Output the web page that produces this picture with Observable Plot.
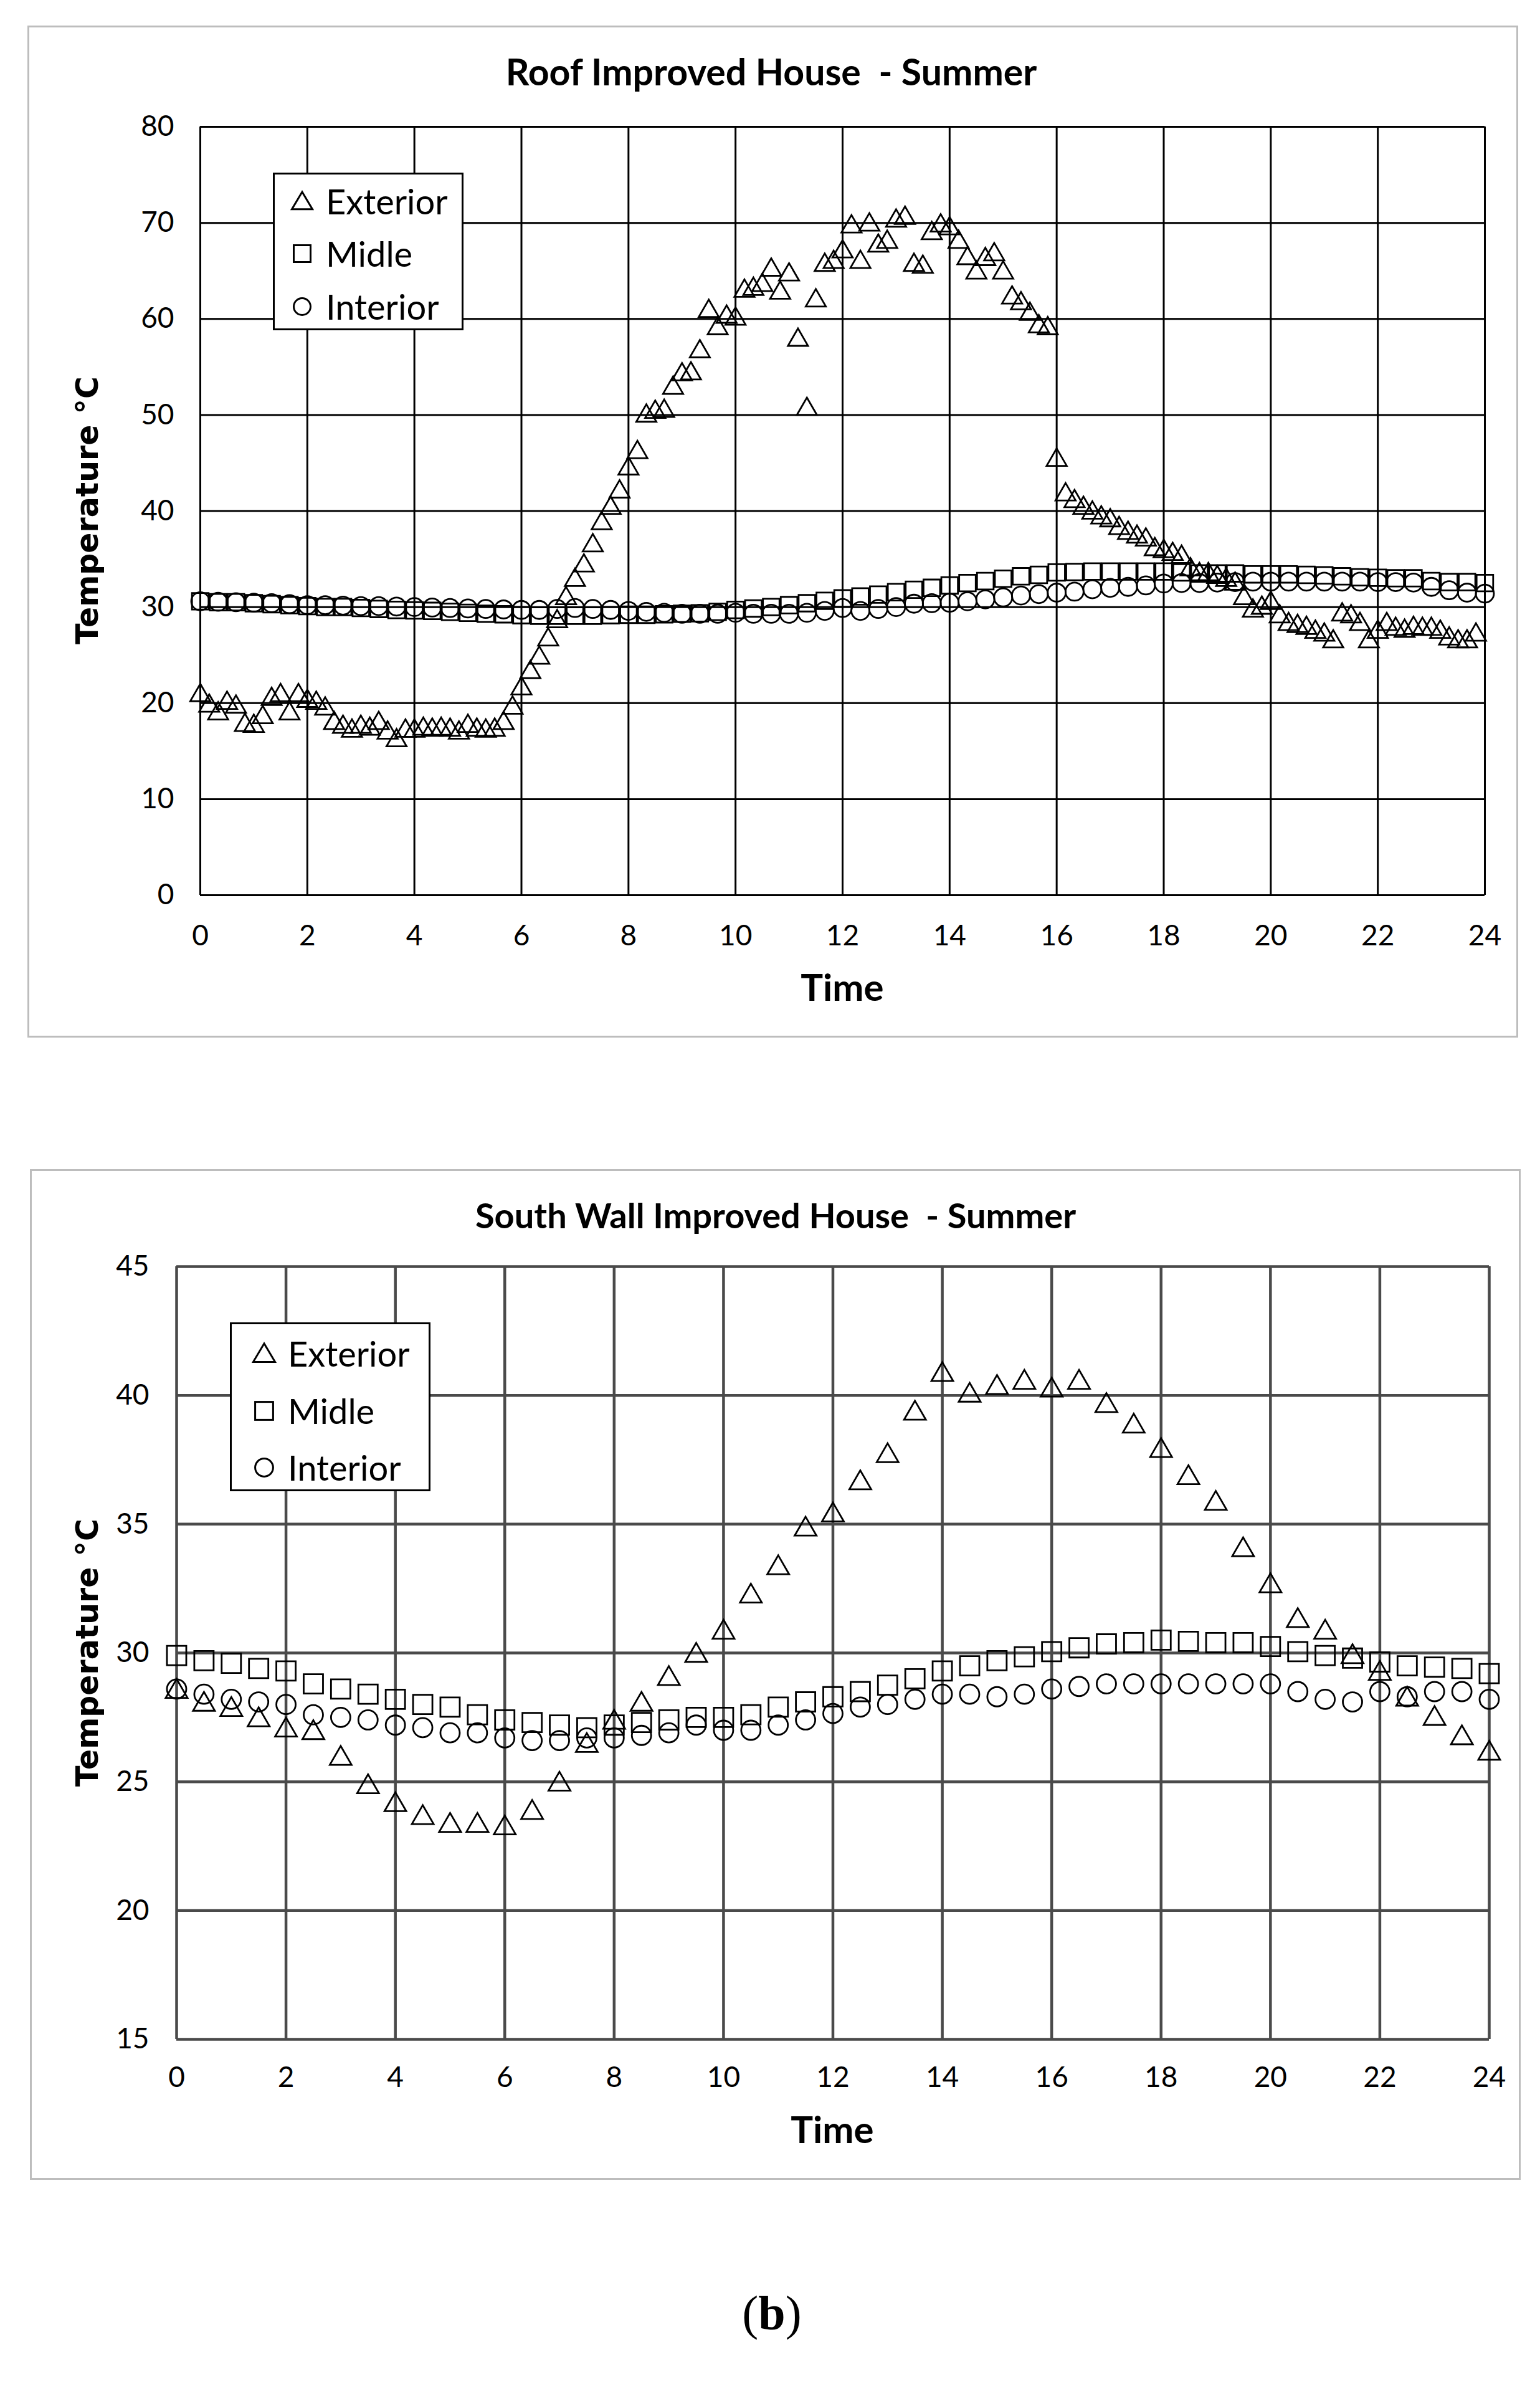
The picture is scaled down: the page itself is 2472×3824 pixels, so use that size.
<!DOCTYPE html>
<html><head><meta charset="utf-8">
<script src="https://cdn.jsdelivr.net/npm/d3@7"></script>
<script src="https://cdn.jsdelivr.net/npm/@observablehq/plot@0.6"></script>
<style>
html,body{margin:0;padding:0;background:#fff;}
body{width:2472px;height:3824px;position:relative;overflow:hidden;}
.frame{position:absolute;border:3px solid #bdbdbd;box-sizing:border-box;}
.title{position:absolute;font-family:Lato,sans-serif;font-weight:700;font-size:59px;white-space:pre;transform:translate(-50%,-50%);color:#000;}
.xlab{position:absolute;font-family:Lato,sans-serif;font-weight:700;font-size:60px;transform:translate(-50%,-50%);color:#000;}
.ylab{position:absolute;font-family:"DejaVu Sans",sans-serif;font-weight:700;font-size:49px;white-space:pre;transform:translate(-50%,-50%) rotate(-90deg);color:#000;}
.legend{position:absolute;border:3px solid #000;background:#fff;box-sizing:border-box;}
.lrow{position:absolute;font-family:Lato,sans-serif;font-size:56px;color:#000;line-height:1;transform:translateY(-50%);white-space:pre;}
.lsym{position:absolute;transform:translate(-50%,-50%);}
.cap{position:absolute;font-family:"Liberation Serif",serif;font-size:78px;transform:translate(-50%,-50%);color:#000;}
</style></head>
<body>
<script>
// ---------------- DATA ----------------
const seriesNames = ["Exterior", "Midle", "Interior"];
const xTicks = [0, 2, 4, 6, 8, 10, 12, 14, 16, 18, 20, 22, 24];
const roofYTicks = [0, 10, 20, 30, 40, 50, 60, 70, 80];
const wallYTicks = [15, 20, 25, 30, 35, 40, 45];

// Roof chart: exterior sampled every 10 min, midle/interior every 20 min (hours 0-24)
const roofExteriorStepMin = 10;
const roofInnerStepMin = 20;
const roofExterior = [
  20.8, 19.7, 18.9, 20.0, 19.6, 17.7,
  17.6, 18.5, 20.4, 20.8, 18.9, 20.8,
  20.2, 20.0, 19.4, 17.9, 17.5, 17.1,
  17.5, 17.3, 17.9, 16.9, 16.1, 17.1,
  17.1, 17.3, 17.2, 17.3, 17.2, 16.9,
  17.6, 17.2, 17.1, 17.2, 17.9, 19.5,
  21.5, 23.2, 24.7, 26.6, 28.5, 30.9,
  32.8, 34.3, 36.4, 38.7, 40.3, 42.0,
  44.4, 46.1, 49.9, 50.3, 50.4, 52.8,
  54.2, 54.3, 56.6, 60.8, 59.0, 60.2,
  60.0, 62.9, 63.1, 63.5, 65.1, 62.7,
  64.6, 57.8, 50.6, 61.9, 65.6, 65.9,
  67.0, 69.6, 65.9, 69.8, 67.6, 68.0,
  70.2, 70.5, 65.6, 65.4, 68.9, 69.7,
  69.4, 68.0, 66.3, 64.8, 66.2, 66.7,
  64.8, 62.2, 61.6, 60.5, 59.2, 59.0,
  45.3, 41.7, 41.0, 40.3, 39.8, 39.3,
  39.0, 38.2, 37.7, 37.3, 37.0, 36.0,
  35.8, 35.5, 35.2, 33.9, 33.4, 33.4,
  33.1, 32.8, 32.4, 30.9, 29.6, 29.9,
  30.4, 29.0, 28.2, 28.0, 27.8, 27.4,
  27.1, 26.4, 29.2, 29.0, 28.2, 26.4,
  27.4, 28.2, 27.7, 27.5, 27.8, 27.7,
  27.7, 27.4, 26.7, 26.4, 26.4, 27.1
];
const roofMidle = [
  30.6, 30.5, 30.5, 30.4, 30.3, 30.2,
  30.1, 30.0, 30.0, 29.9, 29.8, 29.7,
  29.65, 29.6, 29.5, 29.4, 29.3, 29.25,
  29.15, 29.1, 29.1, 29.1, 29.1, 29.15,
  29.2, 29.2, 29.25, 29.3, 29.35, 29.5,
  29.7, 29.85, 30.0, 30.2, 30.4, 30.65,
  30.9, 31.1, 31.3, 31.55, 31.8, 32.0,
  32.25, 32.5, 32.7, 32.95, 33.2, 33.35,
  33.6, 33.65, 33.7, 33.7, 33.7, 33.7,
  33.7, 33.6, 33.5, 33.5, 33.5, 33.4,
  33.4, 33.4, 33.35, 33.3, 33.2, 33.1,
  33.05, 33.0, 33.0, 32.7, 32.6, 32.6,
  32.5
];
const roofInterior = [
  30.6, 30.55, 30.5, 30.45, 30.4, 30.3,
  30.2, 30.2, 30.15, 30.1, 30.1, 30.05,
  30.0, 29.95, 29.9, 29.85, 29.8, 29.75,
  29.7, 29.7, 29.8, 29.9, 29.8, 29.7,
  29.6, 29.5, 29.4, 29.3, 29.3, 29.3,
  29.4, 29.3, 29.3, 29.3, 29.4, 29.6,
  29.9, 29.6, 29.8, 30.0, 30.35, 30.4,
  30.45, 30.6, 30.8, 31.0, 31.2, 31.35,
  31.5, 31.6, 31.85, 32.0, 32.1, 32.25,
  32.45, 32.5, 32.5, 32.55, 32.6, 32.65,
  32.65, 32.65, 32.65, 32.65, 32.65, 32.65,
  32.6, 32.6, 32.55, 32.1, 31.75, 31.5,
  31.4
];

// South wall chart: all series sampled every 30 min (hours 0-24)
const wallStepMin = 30;
const wallExterior = [
  28.5, 28.0, 27.8, 27.4, 27.0, 26.9,
  25.9, 24.8, 24.1, 23.6, 23.3, 23.3,
  23.2, 23.8, 24.9, 26.4, 27.3, 28.0,
  29.0, 29.9, 30.8, 32.2, 33.3, 34.8,
  35.35, 36.6, 37.65, 39.3, 40.8, 40.0,
  40.3, 40.5, 40.2, 40.5, 39.6, 38.8,
  37.85, 36.8, 35.8, 34.0, 32.6, 31.25,
  30.8, 29.85, 29.2, 28.2, 27.45, 26.7,
  26.1
];
const wallMidle = [
  29.9, 29.7, 29.6, 29.4, 29.3, 28.8,
  28.6, 28.4, 28.2, 28.0, 27.9, 27.6,
  27.4, 27.3, 27.2, 27.1, 27.2, 27.3,
  27.4, 27.5, 27.5, 27.6, 27.9, 28.1,
  28.3, 28.5, 28.75, 29.0, 29.3, 29.5,
  29.7, 29.85, 30.05, 30.2, 30.35, 30.4,
  30.5, 30.45, 30.4, 30.4, 30.25, 30.05,
  29.9, 29.8, 29.65, 29.5, 29.45, 29.4,
  29.2
];
const wallInterior = [
  28.6, 28.4, 28.2, 28.1, 28.0, 27.6,
  27.5, 27.4, 27.2, 27.1, 26.9, 26.9,
  26.7, 26.6, 26.6, 26.7, 26.7, 26.8,
  26.9, 27.2, 27.0, 27.0, 27.2, 27.4,
  27.65, 27.9, 28.0, 28.2, 28.4, 28.4,
  28.3, 28.4, 28.6, 28.7, 28.8, 28.8,
  28.8, 28.8, 28.8, 28.8, 28.8, 28.5,
  28.2, 28.1, 28.5, 28.3, 28.5, 28.5,
  28.2
];

// ---------------- HELPERS ----------------
const toRows = (vals, stepMin) => vals.map((v, i) => ({t: i * stepMin / 60, v}));

function addDiv(cls, x, y, html, extra) {
  const d = document.createElement("div");
  d.className = cls;
  d.style.left = x + "px";
  d.style.top = y + "px";
  d.innerHTML = html;
  if (extra) Object.assign(d.style, extra);
  document.body.appendChild(d);
  return d;
}

function symbolSvg(kind, size, sw) {
  const s = size + 8, c = s / 2, h = size / 2;
  let shape;
  if (kind === "triangle") {
    shape = `<polygon points="${c},${c - h} ${c - h * 1.1},${c + h * 0.85} ${c + h * 1.1},${c + h * 0.85}" fill="none" stroke="#000" stroke-width="${sw}"/>`;
  } else if (kind === "square") {
    shape = `<rect x="${c - h * 0.9}" y="${c - h * 0.9}" width="${h * 1.8}" height="${h * 1.8}" fill="none" stroke="#000" stroke-width="${sw}"/>`;
  } else {
    shape = `<circle cx="${c}" cy="${c}" r="${h * 0.9}" fill="none" stroke="#000" stroke-width="${sw}"/>`;
  }
  return `<svg width="${s}" height="${s}" style="display:block">${shape}</svg>`;
}

function legend(box, rows, symX, textX, size) {
  const kinds = ["triangle", "square", "circle"];
  addDiv("legend", box[0], box[1], "", {width: (box[2] - box[0]) + "px", height: (box[3] - box[1]) + "px"});
  seriesNames.forEach((name, i) => {
    addDiv("lsym", symX, rows[i], symbolSvg(kinds[i], size, 3));
    addDiv("lrow", textX, rows[i], name);
  });
}

function chart(cfg) {
  const grid = {stroke: cfg.gridColor, strokeOpacity: 1, strokeWidth: cfg.gridWidth};
  const dotStyle = {fill: "none", stroke: "#000", strokeWidth: 2.8};
  const svg = Plot.plot({
    width: cfg.w, height: cfg.h,
    marginLeft: cfg.ml, marginRight: cfg.mr, marginTop: cfg.mt, marginBottom: cfg.mb,
    style: {fontFamily: "Lato, sans-serif", fontSize: "46px", color: "#000", background: "transparent", overflow: "visible"},
    x: {domain: [0, 24], label: null},
    y: {domain: cfg.yDomain, label: null},
    marks: [
      Plot.gridX(xTicks, grid),
      Plot.gridY(cfg.yTicks, grid),
      Plot.axisX(xTicks, {tickSize: 0, tickPadding: cfg.xPad, label: null, fontSize: 46}),
      Plot.axisY(cfg.yTicks, {tickSize: 0, tickPadding: cfg.yPad, label: null, fontSize: 46}),
      Plot.dot(cfg.ext, {x: "t", y: "v", symbol: "triangle", r: cfg.rTri, ...dotStyle}),
      Plot.dot(cfg.mid, {x: "t", y: "v", symbol: "square", r: cfg.rSq, ...dotStyle}),
      Plot.dot(cfg.int, {x: "t", y: "v", symbol: "circle", r: cfg.rCi, ...dotStyle})
    ]
  });
  svg.style.position = "absolute";
  svg.style.left = cfg.x + "px";
  svg.style.top = cfg.y + "px";
  document.body.appendChild(svg);
}

// ---------------- TOP: ROOF ----------------
addDiv("frame", 44, 41, "", {width: "2393px", height: "1624px"});
addDiv("title", 1238, 114, "Roof Improved House  - Summer");
chart({
  x: 44, y: 160, w: 2393, h: 1500, ml: 277, mr: 54, mt: 43, mb: 224,
  yDomain: [0, 80], yTicks: roofYTicks, xPad: 48, yPad: 42,
  gridColor: "#000", gridWidth: 3,
  ext: toRows(roofExterior, roofExteriorStepMin),
  mid: toRows(roofMidle, roofInnerStepMin),
  int: toRows(roofInterior, roofInnerStepMin),
  rTri: 12, rSq: 15, rCi: 14.5
});
addDiv("ylab", 140, 819, "Temperature °C");
addDiv("xlab", 1352, 1583, "Time");
legend([438, 277, 744, 530], [323, 407, 492], 485, 523, 30);

// ---------------- BOTTOM: SOUTH WALL ----------------
addDiv("frame", 48, 1876, "", {width: "2393px", height: "1622px"});
addDiv("title", 1245, 1949, "South Wall Improved House  - Summer", {fontSize: "56px"});
chart({
  x: 48, y: 1990, w: 2393, h: 1500, ml: 235, mr: 51, mt: 42, mb: 218,
  yDomain: [15, 45], yTicks: wallYTicks, xPad: 44, yPad: 44,
  gridColor: "#4a4a4a", gridWidth: 4.5,
  ext: toRows(wallExterior, wallStepMin),
  mid: toRows(wallMidle, wallStepMin),
  int: toRows(wallInterior, wallStepMin),
  rTri: 13, rSq: 17.5, rCi: 15.5
});
addDiv("ylab", 140, 2652, "Temperature °C");
addDiv("xlab", 1336, 3416, "Time");
legend([369, 2122, 691, 2393], [2172, 2264, 2355], 424, 462, 32);

// ---------------- CAPTION ----------------
addDiv("cap", 1239, 3712, "(<b>b</b>)");
</script>
</body></html>
